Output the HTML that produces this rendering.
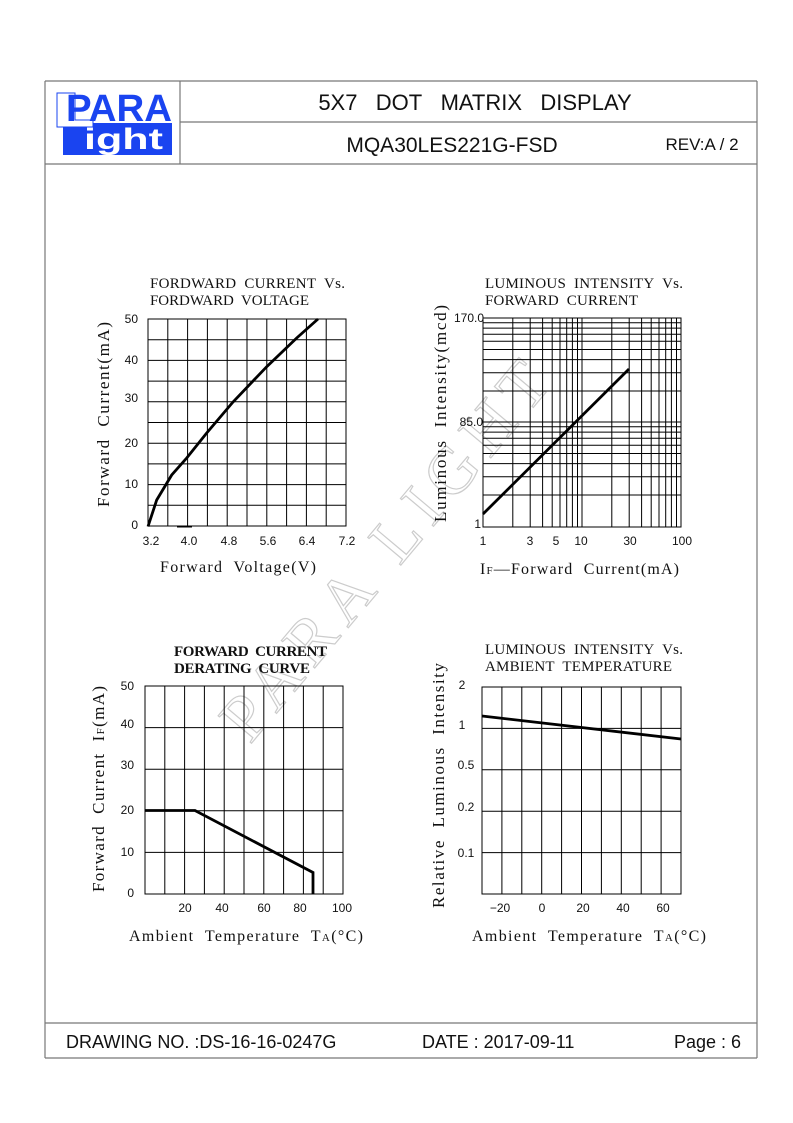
<!DOCTYPE html>
<html><head><meta charset="utf-8"><style>
html,body{margin:0;padding:0;background:#fff}
svg{display:block}
.s{font-family:"Liberation Sans",sans-serif}
.m{font-family:"Liberation Serif",serif}
</style></head><body>
<svg width="793" height="1123" viewBox="0 0 793 1123" xmlns="http://www.w3.org/2000/svg">
<g stroke="#777" stroke-width="1.2" fill="none">
<line x1="45" y1="81" x2="757" y2="81"/>
<line x1="45" y1="164" x2="757" y2="164"/>
<line x1="180" y1="122" x2="757" y2="122"/>
<line x1="45" y1="81" x2="45" y2="1058"/>
<line x1="757" y1="81" x2="757" y2="1058"/>
<line x1="180" y1="81" x2="180" y2="164"/>
<line x1="45" y1="1023" x2="757" y2="1023"/>
<line x1="45" y1="1058" x2="757" y2="1058"/>
</g>
<!-- logo -->
<rect x="63" y="123" width="109" height="32" fill="#1a44f0"/>
<path d="M57 93 h18 v27 h18 v7 h-36z" fill="#fff" stroke="#1a44f0" stroke-width="1"/>
<text x="66" y="121" font-family="Liberation Sans" font-weight="bold" font-size="38" fill="#1a44f0" textLength="106" lengthAdjust="spacingAndGlyphs">PARA</text>
<text x="84" y="149" font-family="Liberation Sans" font-weight="bold" font-size="30" fill="#fff" textLength="79" lengthAdjust="spacingAndGlyphs">ight</text>
<g class="s" fill="#111">
<text x="475" y="110" font-size="22" text-anchor="middle">5X7&#160;&#160; DOT&#160;&#160; MATRIX&#160;&#160; DISPLAY</text>
<text x="452" y="152" font-size="21" text-anchor="middle">MQA30LES221G-FSD</text>
<text x="702" y="150" font-size="17" text-anchor="middle">REV:A / 2</text>
<text x="66" y="1048" font-size="18">DRAWING NO. :DS-16-16-0247G</text>
<text x="422" y="1048" font-size="18">DATE : 2017-09-11</text>
<text x="674" y="1048" font-size="18">Page : 6</text>
</g>
<!-- watermark -->
<text x="0" y="0" transform="translate(250,745) rotate(-50)" font-family="Liberation Serif" font-size="66" fill="none" stroke="#ccc" stroke-width="1.2" letter-spacing="10">PARA LIGHT</text>

<!-- Chart 1 -->
<g stroke="#000" stroke-width="1" fill="none">
<rect x="148" y="319" width="198" height="207"/>
<path d="M167.8 319V526M187.6 319V526M207.4 319V526M227.2 319V526M247 319V526M266.8 319V526M286.6 319V526M306.4 319V526M326.2 319V526"/>
<path d="M148 339.7H346M148 360.4H346M148 381.1H346M148 401.8H346M148 422.5H346M148 443.2H346M148 463.9H346M148 484.6H346M148 505.3H346"/>
<path d="M148 526.5L156.7 500L171.7 475L186.7 458L206.7 433L233 402L266.7 366.7L296.7 338L318 319" stroke-width="2.8"/>
<line x1="177" y1="526.5" x2="192" y2="526.5" stroke-width="2"/>
</g>
<g class="m" fill="#111" font-size="15">
<text x="150" y="288" textLength="195" lengthAdjust="spacing">FORDWARD&#160; CURRENT&#160; Vs.</text>
<text x="150" y="305" textLength="159" lengthAdjust="spacing">FORDWARD&#160; VOLTAGE</text>
<text x="160" y="572" font-size="16" textLength="156" lengthAdjust="spacing">Forward&#160; Voltage(V)</text>
<text transform="translate(109,507) rotate(-90)" font-size="17" textLength="185" lengthAdjust="spacing">Forward&#160; Current(mA)</text>
</g>
<g class="s" fill="#111" font-size="12">
<g text-anchor="end"><text x="138" y="323">50</text><text x="138" y="364">40</text><text x="138" y="402">30</text><text x="138" y="447">20</text><text x="138" y="488">10</text><text x="138" y="529">0</text></g>
<g text-anchor="middle"><text x="151" y="545">3.2</text><text x="189" y="545">4.0</text><text x="229" y="545">4.8</text><text x="268" y="545">5.6</text><text x="307" y="545">6.4</text><text x="347" y="545">7.2</text></g>
</g>

<!-- Chart 2 -->
<g stroke="#000" stroke-width="1" fill="none">
<rect x="483" y="318" width="198" height="209"/>
<path d="M512.8 318V527M530.2 318V527M542.6 318V527M552.2 318V527M560 318V527M566.7 318V527M572.4 318V527M577.5 318V527M582 318V527M611.8 318V527M629.2 318V527M641.6 318V527M651.2 318V527M659 318V527M665.7 318V527M671.4 318V527M676.5 318V527"/>
<path d="M483 391H681M483 372.7H681M483 359.6H681M483 349.5H681M483 341.2H681M483 334.2H681M483 328.1H681M483 322.8H681M483 422H681M483 495H681M483 476.7H681M483 463.6H681M483 453.5H681M483 445.2H681M483 438.2H681M483 432.1H681M483 426.8H681"/>
<path d="M483 514L629 369" stroke-width="2.8"/>
</g>
<g class="m" fill="#111" font-size="15">
<text x="485" y="288" textLength="198" lengthAdjust="spacing">LUMINOUS&#160; INTENSITY&#160; Vs.</text>
<text x="485" y="305" textLength="153" lengthAdjust="spacing">FORWARD&#160; CURRENT</text>
<text x="480" y="574" font-size="16" textLength="199" lengthAdjust="spacing">I<tspan font-size="11">F</tspan>—Forward&#160; Current(mA)</text>
<text transform="translate(446,522) rotate(-90)" font-size="17" textLength="217" lengthAdjust="spacing">Luminous&#160; Intensity(mcd)</text>
</g>
<g class="s" fill="#111" font-size="12">
<g text-anchor="end"><text x="484" y="322">170.0</text><text x="483" y="426">85.0</text><text x="481" y="528">1</text></g>
<g text-anchor="middle"><text x="483" y="545">1</text><text x="530" y="545">3</text><text x="556" y="545">5</text><text x="581" y="545">10</text><text x="630" y="545">30</text><text x="682" y="545">100</text></g>
</g>

<!-- Chart 3 -->
<g stroke="#000" stroke-width="1" fill="none">
<rect x="145" y="686" width="198" height="208"/>
<path d="M164.8 686V894M184.6 686V894M204.4 686V894M224.2 686V894M244 686V894M263.8 686V894M283.6 686V894M303.4 686V894M323.2 686V894"/>
<path d="M145 727.6H343M145 769.2H343M145 810.8H343M145 852.4H343"/>
<path d="M145 810.5H195L313 872.5V894" stroke-width="2.8"/>
</g>
<g class="m" fill="#111" font-size="15">
<text x="174" y="656" font-weight="bold" textLength="153" lengthAdjust="spacing">FORWARD&#160; CURRENT</text>
<text x="174" y="673" font-weight="bold" textLength="136" lengthAdjust="spacing">DERATING&#160; CURVE</text>
<text x="129" y="941" font-size="16" textLength="234" lengthAdjust="spacing">Ambient&#160; Temperature&#160; T<tspan font-size="11">A</tspan>(°C)</text>
<text transform="translate(104,892) rotate(-90)" font-size="17" textLength="206" lengthAdjust="spacing">Forward&#160; Current&#160; I<tspan font-size="11">F</tspan>(mA)</text>
</g>
<g class="s" fill="#111" font-size="12">
<g text-anchor="end"><text x="134" y="690">50</text><text x="134" y="728">40</text><text x="134" y="769">30</text><text x="134" y="814">20</text><text x="134" y="856">10</text><text x="134" y="897">0</text></g>
<g text-anchor="middle"><text x="185" y="912">20</text><text x="222" y="912">40</text><text x="264" y="912">60</text><text x="300" y="912">80</text><text x="342" y="912">100</text></g>
</g>

<!-- Chart 4 -->
<g stroke="#000" stroke-width="1" fill="none">
<rect x="482" y="687" width="199" height="207"/>
<path d="M501.9 687V894M521.8 687V894M541.7 687V894M561.6 687V894M581.5 687V894M601.4 687V894M621.3 687V894M641.2 687V894M661.1 687V894"/>
<path d="M482 728.4H681M482 769.8H681M482 811.2H681M482 852.6H681"/>
<path d="M482 716L681 739" stroke-width="2.8"/>
</g>
<g class="m" fill="#111" font-size="15">
<text x="485" y="654" textLength="198" lengthAdjust="spacing">LUMINOUS&#160; INTENSITY&#160; Vs.</text>
<text x="485" y="671" textLength="187" lengthAdjust="spacing">AMBIENT&#160; TEMPERATURE</text>
<text x="472" y="941" font-size="16" textLength="234" lengthAdjust="spacing">Ambient&#160; Temperature&#160; T<tspan font-size="11">A</tspan>(°C)</text>
<text transform="translate(444,908) rotate(-90)" font-size="17" textLength="245" lengthAdjust="spacing">Relative&#160; Luminous&#160; Intensity</text>
</g>
<g class="s" fill="#111" font-size="12">
<g text-anchor="middle"><text x="462" y="689">2</text><text x="462" y="729">1</text><text x="466" y="769">0.5</text><text x="466" y="811">0.2</text><text x="466" y="857">0.1</text></g>
<g text-anchor="middle"><text x="500" y="912">−20</text><text x="542" y="912">0</text><text x="583" y="912">20</text><text x="623" y="912">40</text><text x="663" y="912">60</text></g>
</g>
</svg>
</body></html>
